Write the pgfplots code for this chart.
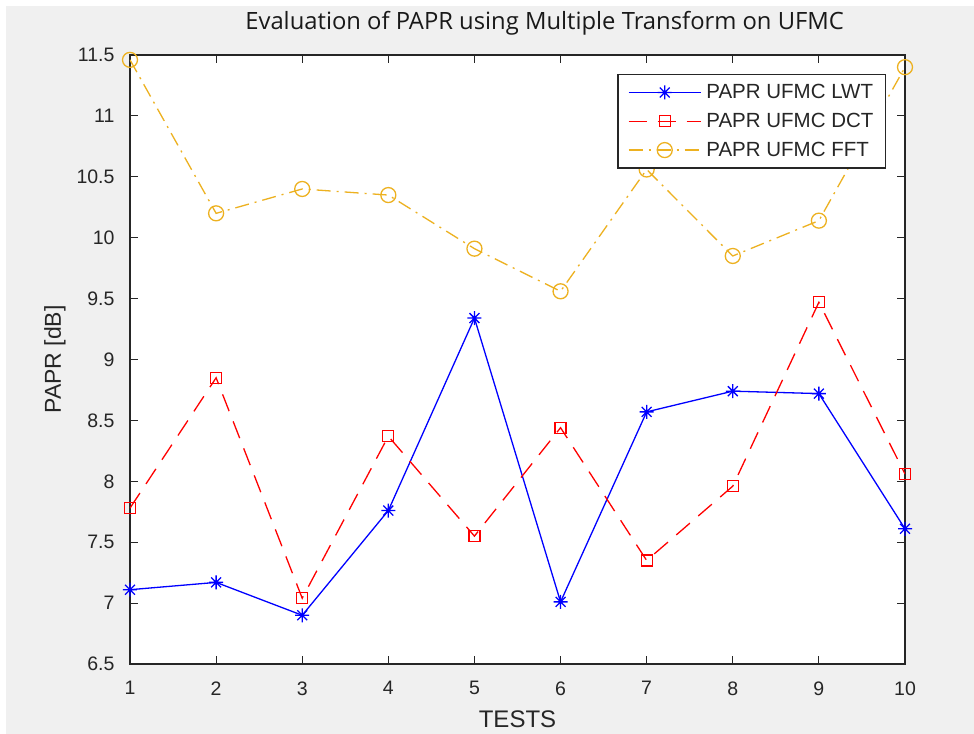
\documentclass[border=0pt]{standalone}
\usepackage{pgfplots}
\pgfplotsset{compat=1.18}
\usepackage{fontspec}
\setmainfont{Liberation Sans}
\newfontfamily\titlefont{Open Sans}
\definecolor{figbg}{HTML}{F0F0F0}
\definecolor{axc}{HTML}{262626}
\definecolor{fftc}{rgb}{0.929,0.694,0.125}
\pgfdeclareplotmark{mstar}{%
  \pgfpathmoveto{\pgfqpoint{-\pgfplotmarksize}{0pt}}\pgfpathlineto{\pgfqpoint{\pgfplotmarksize}{0pt}}%
  \pgfpathmoveto{\pgfqpoint{0pt}{-\pgfplotmarksize}}\pgfpathlineto{\pgfqpoint{0pt}{\pgfplotmarksize}}%
  \pgfpathmoveto{\pgfqpoint{-0.707\pgfplotmarksize}{-0.707\pgfplotmarksize}}\pgfpathlineto{\pgfqpoint{0.707\pgfplotmarksize}{0.707\pgfplotmarksize}}%
  \pgfpathmoveto{\pgfqpoint{-0.707\pgfplotmarksize}{0.707\pgfplotmarksize}}\pgfpathlineto{\pgfqpoint{0.707\pgfplotmarksize}{-0.707\pgfplotmarksize}}%
  \pgfusepathqstroke}
\begin{document}
\begin{tikzpicture}
\fill[white] (-130bp,-70bp) rectangle (844bp,664bp);
\fill[figbg] (-124bp,-70bp) rectangle (844bp,658bp);
\begin{axis}[
  at={(0,0)}, anchor=south west,
  scale only axis, width=775bp, height=609bp,
  xmin=1, xmax=10, ymin=6.5, ymax=11.5,
  xtick={1,...,10},
  ytick={6.5,7,7.5,8,8.5,9,9.5,10,10.5,11,11.5},
  yticklabels={6.5,7,7.5,8,8.5,9,9.5,10,10.5,11,11.5},
  xtick pos=both, ytick pos=both,
  ticklabel pos=left,
  tick align=inside,
  major tick length=8bp,
  axis line style={axc, line width=1.2bp},
  every tick/.style={axc, line width=1.2bp},
  tick label style={font=\fontsize{19.5bp}{22bp}\selectfont, text=axc},
  /pgf/number format/assume math mode=true,
  xticklabel style={yshift=-14bp},
  yticklabel style={xshift=-12bp},
  axis background/.style={fill=white},
  title={\titlefont Evaluation of PAPR using Multiple Transform on UFMC},
  title style={at={(axis description cs:0.535,1.043)}, anchor=center, font=\fontsize{23.8bp}{27bp}\selectfont, text=black!90},
  xlabel={TESTS},
  xlabel style={at={(axis description cs:0.5,-0.090)}, anchor=center, font=\fontsize{24bp}{27bp}\selectfont, text=axc},
  ylabel={PAPR [dB]},
  ylabel style={at={(axis description cs:-0.097,0.5)}, anchor=center, rotate=0, font=\fontsize{23bp}{26bp}\selectfont, text=axc},
  legend style={at={(axis description cs:1,1)}, anchor=north east, xshift=-19bp, yshift=-19bp,
    draw=axc, line width=1.2bp, fill=white,
    font=\fontsize{20.5bp}{24bp}\selectfont, text=black!85,
    row sep=9bp, column sep=3bp, inner xsep=10bp, inner ysep=8bp},
  legend cell align=left,
  legend image code/.code={\draw[mark repeat=2,mark phase=2,#1] plot coordinates {(0bp,0bp) (36bp,0bp) (72bp,0bp)};},
]
\addplot[blue, line width=1.3bp, mark=mstar, mark size=7bp, mark options={solid}] coordinates {
(1,7.11) (2,7.17) (3,6.90) (4,7.76) (5,9.34) (6,7.01) (7,8.57) (8,8.74) (9,8.72) (10,7.61)};
\addlegendentry{PAPR UFMC LWT}
\addplot[red, line width=1.3bp, dash pattern=on 18bp off 11bp, mark=square, mark size=5.5bp, mark options={solid}] coordinates {
(1,7.78) (2,8.85) (3,7.04) (4,8.37) (5,7.55) (6,8.44) (7,7.35) (8,7.96) (9,9.47) (10,8.06)};
\addlegendentry{PAPR UFMC DCT}
\addplot[fftc, line width=1.3bp, dash pattern=on 14bp off 6bp on 2bp off 6bp, mark=o, mark size=7.5bp, mark options={solid}] coordinates {
(1,11.46) (2,10.20) (3,10.40) (4,10.35) (5,9.91) (6,9.56) (7,10.56) (8,9.85) (9,10.14) (10,11.40)};
\addlegendentry{PAPR UFMC FFT}
\end{axis}
\pgfresetboundingbox
\useasboundingbox (-130bp,-70bp) rectangle (844bp,664bp);
\end{tikzpicture}
\end{document}
